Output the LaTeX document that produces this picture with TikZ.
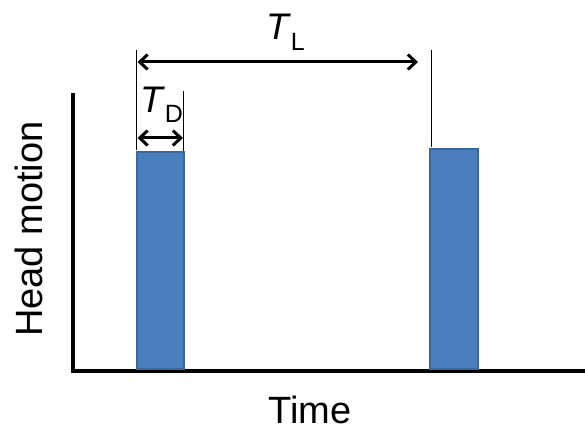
\documentclass[tikz,border=0pt]{standalone}
\usepackage{fontspec}
\setmainfont{Liberation Sans}
\usetikzlibrary{arrows.meta}
\definecolor{barblue}{HTML}{4A7EBD}
\definecolor{baredge}{HTML}{3A679C}
\begin{document}
\begin{tikzpicture}[x=1pt,y=-1pt,
  axis/.style={line width=4pt,line cap=rect},
  bar/.style={fill=barblue,draw=baredge,line width=1.2pt},
  guide/.style={line width=1pt},
  dim/.style={line width=3pt,{Straight Barb[length=8pt,width=15pt,line width=3pt]}-{Straight Barb[length=8pt,width=15pt,line width=3pt]}},
  lbl/.style={font=\fontsize{38}{40}\selectfont,inner sep=0pt},
  sym/.style={font=\fontsize{37}{40}\selectfont,inner sep=0pt}]
\useasboundingbox (0,0) rectangle (585,427);
% axes
\coordinate (ytop) at (73,95);
\coordinate (origin) at (73,371);
\coordinate (xend) at (585,371);
\draw[axis] (ytop) -- (origin) -- (xend);
% bars
\draw[bar] (137,152) rectangle (184,369);
\draw[bar] (430,149) rectangle (478,369);
% guide lines
\coordinate (gl1) at (136.5,50);
\coordinate (gl2) at (136.5,150);
\coordinate (gd1) at (183.5,91);
\coordinate (gd2) at (183.5,151);
\coordinate (gr1) at (431.5,50);
\coordinate (gr2) at (431.5,147);
\draw[guide] (gl1) -- (gl2);
\draw[guide] (gd1) -- (gd2);
\draw[guide] (gr1) -- (gr2);
% dimension arrows
\coordinate (tla) at (137.5,62);
\coordinate (tlb) at (418,62);
\coordinate (tda) at (137.5,138);
\coordinate (tdb) at (183,138);
\draw[dim] (tla) -- (tlb);
\draw[dim] (tda) -- (tdb);
% labels
\node[sym,anchor=base west] (TL) at (266,40) {\textit{T}\raisebox{-11pt}{\fontsize{25}{27}\selectfont L}};
\node[sym,anchor=base west] (TD) at (140,113) {\textit{T}\raisebox{-10pt}{\fontsize{25}{27}\selectfont D}};
\node[lbl,anchor=base,rotate=90] (ylab) at (42,229) {Head motion};
\node[lbl,anchor=base] (xlab) at (310,423) {Time};
\end{tikzpicture}
\end{document}
